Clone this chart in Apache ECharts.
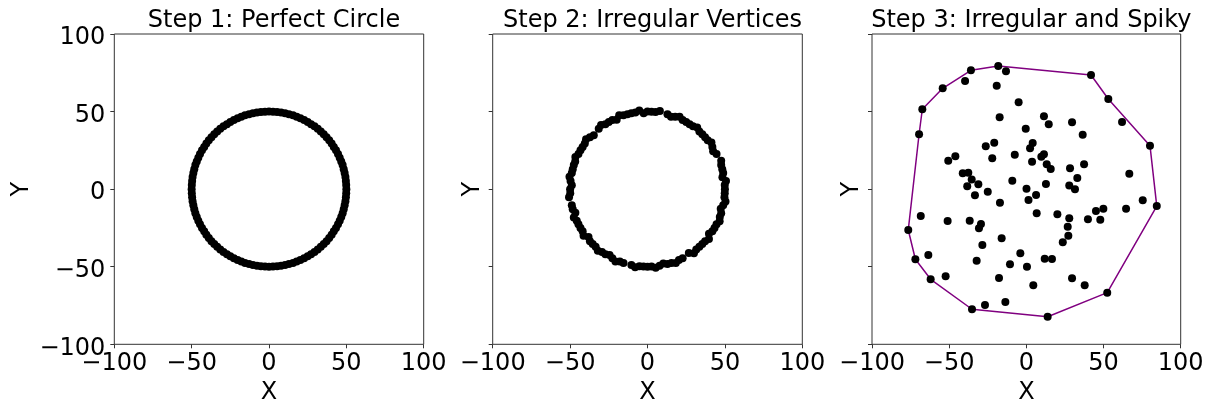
<!DOCTYPE html>
<html>
<head>
<meta charset="utf-8">
<script src="https://cdn.jsdelivr.net/npm/echarts@6/dist/echarts.min.js"></script>
<style>
  html, body { margin: 0; padding: 0; background: #fff; }
  #chart { width: 1216px; height: 406px; }
</style>
</head>
<body>
<div id="chart"></div>
<script>
// Panel titles and shared axis ticks
const titles = ['Step 1: Perfect Circle', 'Step 2: Irregular Vertices', 'Step 3: Irregular and Spiky'];
const axisTicks = [-100, -50, 0, 50, 100];

// Step 1: evenly spaced vertices on a circle of radius 50
const circlePoints = [
  [50.0,0.0],[49.9,2.6],[49.7,5.2],[49.4,7.8],[48.9,10.4],[48.3,12.9],[47.6,15.5],[46.7,17.9],[45.7,20.3],[44.6,22.7],
  [43.3,25.0],[41.9,27.2],[40.5,29.4],[38.9,31.5],[37.2,33.5],[35.4,35.4],[33.5,37.2],[31.5,38.9],[29.4,40.5],[27.2,41.9],
  [25.0,43.3],[22.7,44.6],[20.3,45.7],[17.9,46.7],[15.5,47.6],[12.9,48.3],[10.4,48.9],[7.8,49.4],[5.2,49.7],[2.6,49.9],
  [0.0,50.0],[-2.6,49.9],[-5.2,49.7],[-7.8,49.4],[-10.4,48.9],[-12.9,48.3],[-15.5,47.6],[-17.9,46.7],[-20.3,45.7],[-22.7,44.6],
  [-25.0,43.3],[-27.2,41.9],[-29.4,40.5],[-31.5,38.9],[-33.5,37.2],[-35.4,35.4],[-37.2,33.5],[-38.9,31.5],[-40.5,29.4],[-41.9,27.2],
  [-43.3,25.0],[-44.6,22.7],[-45.7,20.3],[-46.7,17.9],[-47.6,15.5],[-48.3,12.9],[-48.9,10.4],[-49.4,7.8],[-49.7,5.2],[-49.9,2.6],
  [-50.0,0.0],[-49.9,-2.6],[-49.7,-5.2],[-49.4,-7.8],[-48.9,-10.4],[-48.3,-12.9],[-47.6,-15.5],[-46.7,-17.9],[-45.7,-20.3],[-44.6,-22.7],
  [-43.3,-25.0],[-41.9,-27.2],[-40.5,-29.4],[-38.9,-31.5],[-37.2,-33.5],[-35.4,-35.4],[-33.5,-37.2],[-31.5,-38.9],[-29.4,-40.5],[-27.2,-41.9],
  [-25.0,-43.3],[-22.7,-44.6],[-20.3,-45.7],[-17.9,-46.7],[-15.5,-47.6],[-12.9,-48.3],[-10.4,-48.9],[-7.8,-49.4],[-5.2,-49.7],[-2.6,-49.9],
  [0.0,-50.0],[2.6,-49.9],[5.2,-49.7],[7.8,-49.4],[10.4,-48.9],[12.9,-48.3],[15.5,-47.6],[17.9,-46.7],[20.3,-45.7],[22.7,-44.6],
  [25.0,-43.3],[27.2,-41.9],[29.4,-40.5],[31.5,-38.9],[33.5,-37.2],[35.4,-35.4],[37.2,-33.5],[38.9,-31.5],[40.5,-29.4],[41.9,-27.2],
  [43.3,-25.0],[44.6,-22.7],[45.7,-20.3],[46.7,-17.9],[47.6,-15.5],[48.3,-12.9],[48.9,-10.4],[49.4,-7.8],[49.7,-5.2],[49.9,-2.6]
];

// Step 2: vertices near radius 50, with small in/out offsets and a few gaps
const irregularPoints = [
  [50.0,0.0],[49.9,2.6],[50.7,5.3],[48.4,7.6],[48.9,10.4],[48.3,12.9],[47.6,15.5],[47.6,18.3],[44.6,22.7],[42.4,24.5],
  [41.9,27.2],[41.3,30.0],[38.9,31.5],[37.2,33.5],[35.4,35.4],[33.5,37.2],[32.1,39.7],[29.4,40.5],[27.2,41.9],[25.0,43.3],
  [22.7,44.6],[20.7,46.6],[17.9,46.7],[15.2,46.6],[12.9,48.3],[8.0,50.4],[5.2,49.7],[2.6,49.9],[0.0,50.0],[-2.5,48.9],
  [-5.3,50.7],[-7.8,49.4],[-10.4,48.9],[-12.9,48.3],[-15.5,47.6],[-18.3,47.6],[-19.9,44.8],[-22.7,44.6],[-25.0,43.3],[-27.2,41.9],
  [-30.0,41.3],[-31.5,38.9],[-34.7,34.7],[-37.2,33.5],[-39.7,32.1],[-40.5,29.4],[-41.9,27.2],[-43.3,25.0],[-44.6,22.7],[-46.6,20.7],
  [-46.7,17.9],[-47.6,15.5],[-48.3,12.9],[-48.9,10.4],[-50.4,8.0],[-49.7,5.2],[-48.9,2.5],[-50.0,0.0],[-49.9,-2.6],[-50.7,-5.3],
  [-48.9,-10.4],[-48.3,-12.9],[-46.6,-15.2],[-47.6,-18.3],[-45.7,-20.3],[-44.6,-22.7],[-43.3,-25.0],[-41.9,-27.2],[-41.3,-30.0],[-38.1,-30.9],
  [-37.2,-33.5],[-35.4,-35.4],[-33.5,-37.2],[-32.1,-39.7],[-29.4,-40.5],[-27.2,-41.9],[-24.5,-42.4],[-22.7,-44.6],[-20.7,-46.6],[-17.9,-46.7],
  [-15.5,-47.6],[-10.4,-48.9],[-8.0,-50.4],[-5.2,-49.7],[-2.6,-49.9],[0.0,-50.0],[2.6,-49.9],[5.3,-50.7],[7.8,-49.4],[10.2,-47.9],
  [12.9,-48.3],[15.5,-47.6],[18.3,-47.6],[20.3,-45.7],[22.7,-44.6],[26.7,-41.1],[30.0,-41.3],[31.5,-38.9],[33.5,-37.2],[35.4,-35.4],
  [37.2,-33.5],[39.7,-32.1],[39.7,-28.8],[41.9,-27.2],[43.3,-25.0],[44.6,-22.7],[46.6,-20.7],[46.7,-17.9],[47.6,-15.5],[47.3,-12.6],
  [48.9,-10.4],[50.4,-8.0],[49.7,-5.2],[49.9,-2.6]
];

// Step 3: outer (hull) vertices in drawing order, then the interior scatter
const hullPoints = [
  [-67.4,51.5],[-54.2,65.0],[-35.9,76.6],[-18.2,79.4],[41.9,73.6],[53.1,58.1],[80.1,28.0],[84.5,-10.9],
  [52.4,-66.7],[13.8,-82.2],[-35.2,-77.4],[-62.0,-58.1],[-71.9,-45.2],[-76.5,-26.3],[-69.5,35.4]
];
const innerPoints = [
  [-39.7,69.7],[-13.2,76.0],[-19.2,66.7],[-5.0,56.0],[-17.3,46.3],[-0.4,39.0],[-26.3,27.6],[-20.8,29.9],[-22.1,19.9],[-7.5,22.2],
  [-46.0,21.2],[-50.6,18.3],[-41.2,10.2],[-37.6,10.6],[-35.4,6.3],[-38.3,1.8],[-31.1,3.2],[-9.1,5.4],[0.1,0.3],[11.4,47.0],
  [14.5,41.8],[29.6,43.1],[36.5,35.1],[4.1,29.7],[2.4,26.3],[11.4,22.5],[9.7,20.9],[3.7,17.7],[13.2,16.0],[15.8,13.0],
  [28.3,13.4],[37.4,16.0],[33.0,7.2],[27.8,2.4],[31.5,0.0],[12.7,3.3],[66.7,10.0],[62.0,43.3],[-33.3,-4.0],[-25.0,-1.6],
  [-17.1,-8.7],[1.4,-7.0],[-68.4,-17.3],[-51.0,-20.5],[-36.7,-20.3],[-29.4,-22.5],[-30.7,-25.2],[-28.5,-36.0],[-16.0,-31.7],[-3.9,-41.3],
  [-63.5,-42.4],[-32.2,-46.1],[-10.6,-48.4],[0.4,-50.0],[-52.3,-56.2],[-17.7,-57.3],[-26.8,-74.7],[-13.6,-72.7],[6.3,-3.8],[6.7,-15.6],
  [20.1,-16.2],[27.8,-18.8],[26.8,-24.2],[27.2,-30.0],[23.6,-34.3],[39.9,-19.4],[45.1,-14.1],[49.9,-12.6],[47.9,-19.7],[64.6,-12.6],
  [75.4,-7.2],[11.9,-44.8],[16.6,-45.0],[4.5,-62.0],[29.6,-57.5],[37.8,-62.0]
];

const FONT = 'DejaVu Sans';
const frameColor = '#333';
const panels = [
  { left: 114.3, width: 309.4, yLabels: true,  yNameGap: 81 },
  { left: 492.7, width: 309.6, yLabels: false, yNameGap: 8 },
  { left: 872.0, width: 308.7, yLabels: false, yNameGap: 8 }
];
const minusFmt = v => String(v).replace('-', '\u2212');

// Fixed plot boxes; labels may sit outside them freely
const grid = panels.map(p => ({
  left: p.left, top: 34, width: p.width, height: 310.3,
  containLabel: false, outerBoundsMode: 'none',
  show: true, borderColor: frameColor, borderWidth: 1, backgroundColor: '#fff'
}));

const axisCommon = {
  type: 'value',
  min: axisTicks[0],
  max: axisTicks[axisTicks.length - 1],
  interval: axisTicks[1] - axisTicks[0],
  splitLine: { show: false },
  axisLine: { show: false, onZero: false },
  axisTick: { show: true, inside: false, length: 4, lineStyle: { color: frameColor, width: 1 } },
  nameTextStyle: { fontFamily: FONT, fontSize: 24, color: '#000' }
};

const xAxis = panels.map((p, i) => Object.assign({}, axisCommon, {
  gridIndex: i,
  position: 'bottom',
  name: 'X', nameLocation: 'middle', nameGap: 36,
  axisLabel: { show: true, margin: 7, fontFamily: FONT, fontSize: 24, color: '#000', formatter: minusFmt }
}));

// y tick labels sit slightly below their ticks, so each one gets a top pad
const yAxis = panels.map((p, i) => Object.assign({}, axisCommon, {
  gridIndex: i,
  position: 'left',
  name: 'Y', nameLocation: 'middle', nameRotate: 90, nameGap: p.yNameGap,
  axisLabel: {
    show: p.yLabels, margin: 9, color: '#000',
    formatter: v => '{v|' + minusFmt(v) + '}',
    rich: { v: { fontFamily: FONT, fontSize: 24, color: '#000', padding: [8, 0, 0, 0] } }
  }
}));

const title = titles.map((t, i) => ({
  text: t,
  left: panels[i].left + panels[i].width / 2,
  top: 4,
  textAlign: 'center',
  textStyle: { fontFamily: FONT, fontSize: 24, fontWeight: 'normal', color: '#000' }
}));

const dotStyle = { color: '#000', opacity: 1 };
const series = [
  { type: 'scatter', xAxisIndex: 0, yAxisIndex: 0, data: circlePoints, symbolSize: 8, itemStyle: dotStyle, z: 3 },
  { type: 'scatter', xAxisIndex: 1, yAxisIndex: 1, data: irregularPoints, symbolSize: 8, itemStyle: dotStyle, z: 3 },
  { type: 'line', xAxisIndex: 2, yAxisIndex: 2, data: hullPoints.concat([hullPoints[0]]),
    showSymbol: false, symbol: 'none', lineStyle: { color: '#800080', width: 1.5 }, z: 2 },
  { type: 'scatter', xAxisIndex: 2, yAxisIndex: 2, data: hullPoints.concat(innerPoints), symbolSize: 8, itemStyle: dotStyle, z: 3 }
];

const chart = echarts.init(document.getElementById('chart'), null, { renderer: 'canvas' });
chart.setOption({
  animation: false,
  backgroundColor: '#fff',
  title, grid, xAxis, yAxis, series
});
</script>
</body>
</html>
